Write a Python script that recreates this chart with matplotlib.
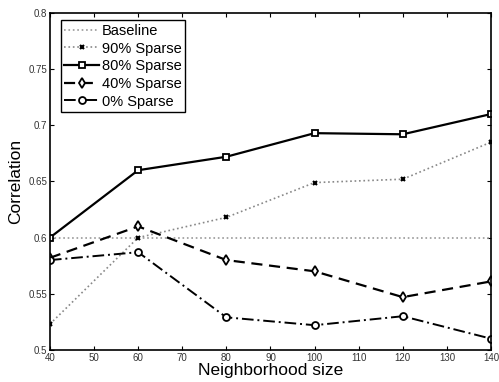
import matplotlib
matplotlib.use("Agg")
import matplotlib.pyplot as plt

plt.rcParams['font.family'] = ['Liberation Sans', 'DejaVu Sans']

sizes = [40, 60, 80, 100, 120, 140]
baseline = [0.6, 0.6, 0.6, 0.6, 0.6, 0.6]
sparse90 = [0.523, 0.600, 0.618, 0.649, 0.652, 0.685]
sparse80 = [0.600, 0.660, 0.672, 0.693, 0.692, 0.710]
sparse40 = [0.582, 0.610, 0.580, 0.570, 0.547, 0.561]
sparse0 = [0.580, 0.587, 0.529, 0.522, 0.530, 0.510]
labels = ["Baseline", "90% Sparse", "80% Sparse", "40% Sparse", "0% Sparse"]

fig = plt.figure(figsize=(4.99, 3.82), dpi=100)
ax = fig.add_axes([0.1, 0.084, 0.884, 0.882])

ax.plot(sizes, baseline, color="#999999", linestyle=":", linewidth=1.2, label=labels[0])
ax.plot(sizes, sparse90, color="#888888", linestyle=":", linewidth=1.2,
        marker="x", markersize=3, markeredgecolor="black", markeredgewidth=1.5, label=labels[1])
ax.plot(sizes, sparse80, color="black", linestyle="-", linewidth=1.6,
        marker="s", markersize=4.5, markerfacecolor="white", markeredgewidth=1.3, label=labels[2])
ax.plot(sizes, sparse40, color="black", linestyle=(0, (5, 3)), linewidth=1.6,
        marker="d", markersize=5, markerfacecolor="white", markeredgewidth=1.3, label=labels[3])
ax.plot(sizes, sparse0, color="black", linestyle=(0, (6, 2, 1, 2)), linewidth=1.4,
        marker="o", markersize=5, markerfacecolor="white", markeredgewidth=1.3, label=labels[4])

ax.set_xlim(40, 140)
ax.set_ylim(0.5, 0.8)
ax.set_xticks(range(40, 141, 10))
ax.set_yticks([0.5, 0.55, 0.6, 0.65, 0.7, 0.75, 0.8])
ax.set_yticklabels(["0.5", "0.55", "0.6", "0.65", "0.7", "0.75", "0.8"])
ax.tick_params(direction="in", top=True, right=True, labelsize=7, length=3, pad=2,
               labelcolor="#333333")
for s in ax.spines.values():
    s.set_linewidth(1.2)

ax.set_xlabel("Neighborhood size", fontsize=12.5, labelpad=0)
ax.set_ylabel("Correlation", fontsize=12.5, labelpad=4)

leg = ax.legend(loc="upper left", fontsize=10.5, handlelength=2.4, handletextpad=0.15,
                borderpad=0.25, labelspacing=0.25, fancybox=False, framealpha=1,
                bbox_to_anchor=(0.008, 1.0))
leg.get_frame().set_edgecolor("black")
leg.get_frame().set_linewidth(1)

plt.savefig("out.png", dpi=100)
